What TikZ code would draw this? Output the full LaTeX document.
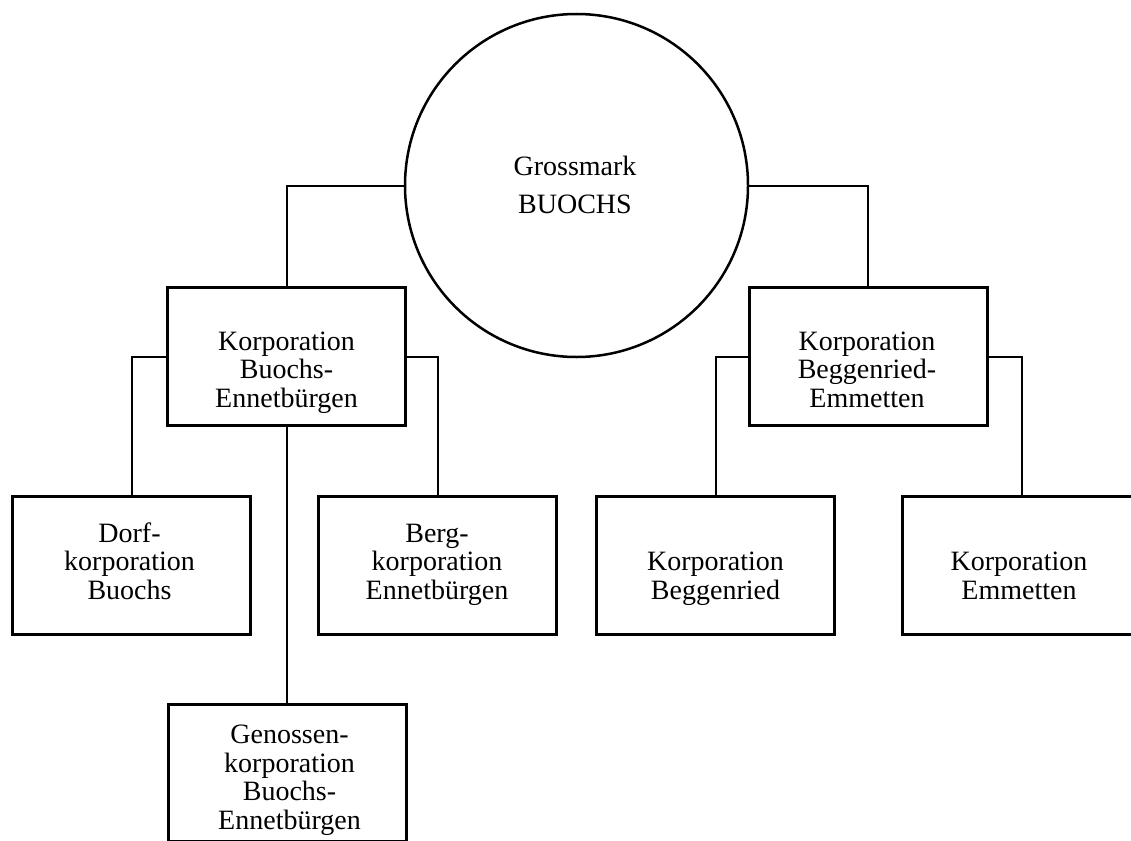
\documentclass[tikz,border=0pt]{standalone}
\usepackage{fontspec}
\setmainfont{Liberation Serif}
\begin{document}
\begin{tikzpicture}[x=1pt,y=-1pt,
  orgbox/.style={draw,line width=3pt,rectangle,minimum width=238pt,minimum height=137.5pt,inner sep=0pt},
  rund/.style={draw,line width=2.5pt,circle,minimum size=343pt,inner sep=0pt},
  conn/.style={line width=2pt},
  lbl/.style={align=center,anchor=base,inner sep=0pt,font=\fontsize{28}{28.5}\selectfont},
  clbl/.style={align=center,anchor=base,inner sep=0pt,font=\fontsize{28}{37.6}\selectfont}]
\useasboundingbox[fill=white] (0,0) rectangle (1131,840);
% nodes
\node[rund] (gm) at (576.5,185.5) {};
\node[orgbox] (kbe) at (286.5,356.5) {};
\node[orgbox] (kbm) at (868,356.5) {};
\node[orgbox] (dorf) at (131.5,565.5) {};
\node[orgbox] (berg) at (437.5,565.5) {};
\node[orgbox] (begg) at (715.5,565.5) {};
\node[orgbox] (emm) at (1021.5,565.5) {};
\node[orgbox] (gen) at (287.5,772.75) {};
% texts (anchored at the baseline of the last line)
\node[clbl] (tgm) at (575,213.3) {Grossmark\\BUOCHS};
\node[lbl] (tkbe) at (286.5,407) {Korporation\\Buochs-\\Ennetbürgen};
\node[lbl] (tkbm) at (867,407) {Korporation\\Beggenried-\\Emmetten};
\node[lbl] (tdorf) at (129.5,599) {Dorf-\\korporation\\Buochs};
\node[lbl] (tberg) at (437,599.3) {Berg-\\korporation\\Ennetbürgen};
\node[lbl] (tbegg) at (715.5,599) {Korporation\\Beggenried};
\node[lbl] (temm) at (1019,599) {Korporation\\Emmetten};
\node[lbl] (tgen) at (289.5,829.3) {Genossen-\\korporation\\Buochs-\\Ennetbürgen};
% connectors
\draw[conn] (gm.west) -| (kbe.north);
\draw[conn] (gm.east) -| (kbm.north);
\draw[conn] (kbe.west) -| (dorf.north);
\draw[conn] (kbe.east) -| (berg.north);
\draw[conn] (kbe.south) -- (kbe.south |- gen.north);
\draw[conn] (kbm.west) -| (begg.north);
\draw[conn] (kbm.east) -| (emm.north);
\end{tikzpicture}
\end{document}
